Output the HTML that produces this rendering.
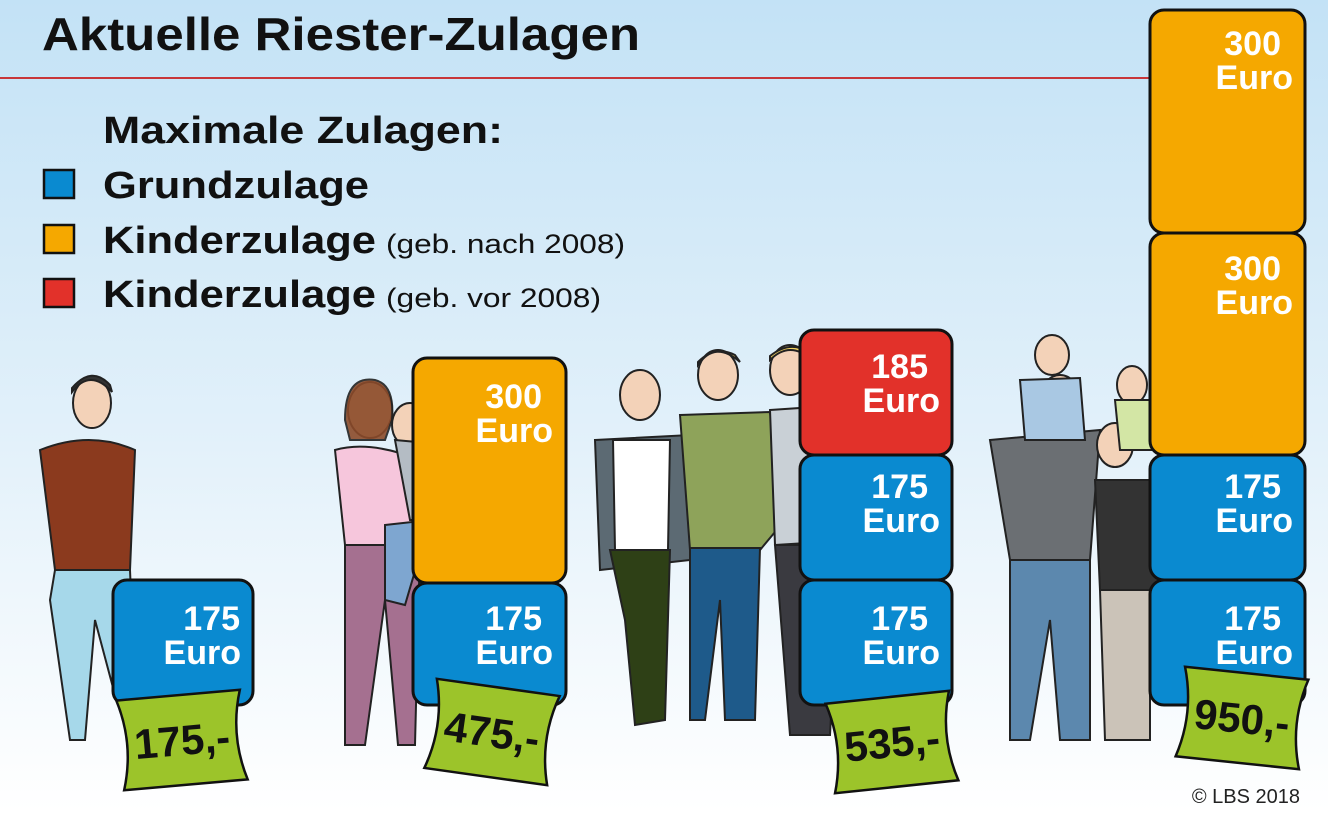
<!DOCTYPE html>
<html><head><meta charset="utf-8"><style>
html,body{margin:0;padding:0}
body{width:1328px;height:812px;overflow:hidden;font-family:"Liberation Sans","DejaVu Sans",sans-serif}
</style></head><body>
<svg width="1328" height="812" viewBox="0 0 1328 812" xmlns="http://www.w3.org/2000/svg" font-family="Liberation Sans, DejaVu Sans, sans-serif">
<defs>
<linearGradient id="bg" x1="0" y1="0" x2="0" y2="1">
<stop offset="0" stop-color="#c3e2f6"/><stop offset="0.55" stop-color="#e3f1fa"/><stop offset="1" stop-color="#ffffff"/>
</linearGradient>
<g id="tag"><path d="M-62,-45 L62,-45 Q48,0 62,45 L-62,45 Q-48,0 -62,-45 Z" fill="#9cc42a" stroke="#111" stroke-width="2.5"/></g>
</defs>
<rect width="1328" height="812" fill="url(#bg)"/>
<line x1="0" y1="78" x2="1150" y2="78" stroke="#c8363a" stroke-width="2"/>
<text x="42" y="50" font-size="46" font-weight="bold" fill="#111" textLength="598" lengthAdjust="spacingAndGlyphs">Aktuelle Riester-Zulagen</text>
<text x="103" y="143" font-size="38" font-weight="bold" fill="#111" textLength="400" lengthAdjust="spacingAndGlyphs">Maximale Zulagen:</text>
<rect x="44" y="170" width="30" height="28" fill="#0a8ad0" stroke="#111" stroke-width="2.5"/>
<text x="103" y="198" font-size="38" font-weight="bold" fill="#111" textLength="266" lengthAdjust="spacingAndGlyphs">Grundzulage</text>
<rect x="44" y="225" width="30" height="28" fill="#f5a800" stroke="#111" stroke-width="2.5"/>
<text x="103" y="253" font-size="38" font-weight="bold" fill="#111" textLength="273" lengthAdjust="spacingAndGlyphs">Kinderzulage</text>
<text x="386" y="253" font-size="27" fill="#111" textLength="239" lengthAdjust="spacingAndGlyphs">(geb. nach 2008)</text>
<rect x="44" y="279" width="30" height="28" fill="#e2312a" stroke="#111" stroke-width="2.5"/>
<text x="103" y="307" font-size="38" font-weight="bold" fill="#111" textLength="273" lengthAdjust="spacingAndGlyphs">Kinderzulage</text>
<text x="386" y="307" font-size="27" fill="#111" textLength="215" lengthAdjust="spacingAndGlyphs">(geb. vor 2008)</text>

<g stroke="#222" stroke-width="2">
<ellipse cx="92" cy="403" rx="19" ry="25" fill="#f3d2b8"/><path d="M72,392 Q90,368 112,392 L110,385 Q92,365 72,388Z" fill="#333"/>
<path d="M40,450 Q90,430 135,450 L130,570 L55,570 Z" fill="#8b3a1e"/>
<path d="M55,570 L130,570 L135,690 L115,695 L95,620 L85,740 L70,740 L50,600Z" fill="#a6d8ea"/>
<ellipse cx="370" cy="410" rx="22" ry="28" fill="#f3d2b8"/><path d="M345,420 Q345,375 375,380 Q395,385 392,420 L385,440 L350,440Z" fill="#8b4b2a" opacity="0.9"/>
<path d="M335,450 Q370,440 420,460 L420,545 L345,545 Z" fill="#f6c6dc"/>
<path d="M345,545 L420,545 L415,745 L398,745 L385,600 L365,745 L345,745Z" fill="#a57090"/>
<ellipse cx="410" cy="425" rx="18" ry="22" fill="#f3d2b8"/><path d="M395,440 L450,445 L452,520 L410,520Z" fill="#b4bcc4"/>
<path d="M385,525 L430,520 L405,605 L385,600Z" fill="#7ea6d0"/>
<ellipse cx="640" cy="395" rx="20" ry="25" fill="#f3d2b8"/>
<path d="M595,440 L690,435 L690,560 L600,570Z" fill="#5c6a73"/><path d="M613,440 L670,440 L668,550 L615,550Z" fill="#fff"/>
<path d="M610,550 L670,550 L665,720 L635,725 L625,620Z" fill="#2e4016"/>
<ellipse cx="718" cy="375" rx="20" ry="25" fill="#f3d2b8"/><path d="M698,365 Q715,340 740,362 L735,355 Q715,345 698,362Z" fill="#f0d060"/>
<path d="M680,415 L770,412 L785,520 L760,550 L690,550Z" fill="#8ea35a"/>
<path d="M690,548 L760,548 L755,720 L725,720 L720,600 L705,720 L690,720Z" fill="#1e5a8a"/>
<ellipse cx="790" cy="370" rx="20" ry="25" fill="#f3d2b8"/><path d="M770,360 Q790,340 812,360 L808,352 Q790,340 770,356Z" fill="#f0d060"/>
<path d="M770,410 L845,405 L855,540 L775,545Z" fill="#c9d0d6"/>
<path d="M775,545 L840,545 L830,735 L790,735Z" fill="#3a3a40"/>
<ellipse cx="1060" cy="400" rx="20" ry="25" fill="#f3d2b8"/>
<path d="M990,440 L1100,430 L1090,560 L1010,560Z" fill="#6b6f73"/>
<path d="M1010,560 L1090,560 L1090,740 L1060,740 L1050,620 L1030,740 L1010,740Z" fill="#5c88ae"/>
<ellipse cx="1052" cy="355" rx="17" ry="20" fill="#f3d2b8"/><path d="M1020,380 L1080,378 L1085,440 L1025,440Z" fill="#a9c8e3"/>
<ellipse cx="1115" cy="445" rx="18" ry="22" fill="#f3d2b8"/><path d="M1095,480 L1170,480 L1180,590 L1100,590Z" fill="#333"/>
<path d="M1100,590 L1150,590 L1150,740 L1105,740Z" fill="#cbc3b8"/>
<ellipse cx="1132" cy="385" rx="15" ry="19" fill="#f3d2b8"/><path d="M1115,400 L1170,400 L1170,450 L1120,450Z" fill="#d3e6a5"/>
</g>

<g stroke="#111" stroke-width="3">
<rect x="113" y="580" width="140" height="125" rx="14" fill="#0a8ad0"/>
<rect x="413" y="358" width="153" height="225" rx="14" fill="#f5a800"/>
<rect x="413" y="583" width="153" height="122" rx="14" fill="#0a8ad0"/>
<rect x="800" y="330" width="152" height="125" rx="14" fill="#e2312a"/>
<rect x="800" y="455" width="152" height="125" rx="14" fill="#0a8ad0"/>
<rect x="800" y="580" width="152" height="125" rx="14" fill="#0a8ad0"/>
<rect x="1150" y="10" width="155" height="223" rx="14" fill="#f5a800"/>
<rect x="1150" y="233" width="155" height="222" rx="14" fill="#f5a800"/>
<rect x="1150" y="455" width="155" height="125" rx="14" fill="#0a8ad0"/>
<rect x="1150" y="580" width="155" height="125" rx="14" fill="#0a8ad0"/>
</g>
<g fill="#fff" font-weight="bold" font-size="34" text-anchor="end">
<text x="240" y="630">175</text><text x="241" y="664">Euro</text>
<text x="542" y="408">300</text><text x="553" y="442">Euro</text>
<text x="542" y="630">175</text><text x="553" y="664">Euro</text>
<text x="928" y="378">185</text><text x="940" y="412">Euro</text>
<text x="928" y="498">175</text><text x="940" y="532">Euro</text>
<text x="928" y="630">175</text><text x="940" y="664">Euro</text>
<text x="1281" y="55">300</text><text x="1293" y="89">Euro</text>
<text x="1281" y="280">300</text><text x="1293" y="314">Euro</text>
<text x="1281" y="498">175</text><text x="1293" y="532">Euro</text>
<text x="1281" y="630">175</text><text x="1293" y="664">Euro</text>
</g>

<g font-weight="bold" font-size="42" text-anchor="middle" fill="#111">
<g transform="translate(182,740) rotate(-5)"><use href="#tag"/><text y="15">175,-</text></g>
<g transform="translate(492,732) rotate(8)"><use href="#tag"/><text y="15">475,-</text></g>
<g transform="translate(892,742) rotate(-6)"><use href="#tag"/><text y="15">535,-</text></g>
<g transform="translate(1242,718) rotate(6)"><use href="#tag"/><text y="15">950,-</text></g>
</g>
<text x="1300" y="803" font-size="20" fill="#222" text-anchor="end">© LBS 2018</text>
</svg>
</body></html>
